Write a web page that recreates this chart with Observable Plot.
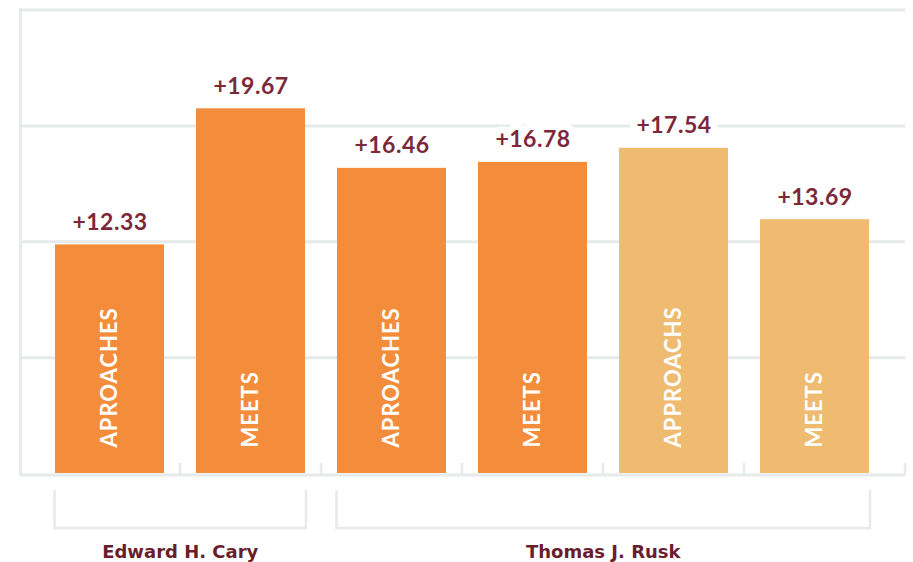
<!DOCTYPE html>
<html>
<head>
<meta charset="utf-8">
<script src="https://cdn.jsdelivr.net/npm/d3@7"></script>
<script src="https://cdn.jsdelivr.net/npm/@observablehq/plot@0.6"></script>
<style>
  html, body { margin: 0; padding: 0; background: #fff; }
  #chart svg { display: block; }
</style>
</head>
<body>
<div id="chart"></div>
<script>
// ---- data ----
const schools = ["Edward H. Cary", "Edward H. Cary", "Thomas J. Rusk", "Thomas J. Rusk", "Thomas J. Rusk", "Thomas J. Rusk"];
const levels = ["APROACHES", "MEETS", "APROACHES", "MEETS", "APPROACHS", "MEETS"];
const values = [12.33, 19.67, 16.46, 16.78, 17.54, 13.69];
const shades = ["dark", "dark", "dark", "dark", "light", "light"];
const groups = ["Edward H. Cary", "Thomas J. Rusk"];
const yTicks = [6.25, 12.5, 18.75, 25];
const yDomain = [0, 25];

const ORANGE = "#f48d3b";
const LIGHT = "#eebb70";
const GRID = "#e7eaea";
const MAROON = "#7b283a";
const MAROON_DARK = "#6a1d2c";

const ids = values.map((_, i) => String(i));
const data = values.map((v, i) => ({id: ids[i], school: schools[i], level: levels[i], value: v, shade: shades[i]}));

function decor(index, scales, vals, dimensions) {
  const x = scales.x, y = scales.y;
  const {width, height, marginLeft, marginRight, marginBottom} = dimensions;
  const base = height - marginBottom;
  let bw = typeof x.bandwidth === "function" ? x.bandwidth() : x.bandwidth;
  if (!(bw > 0)) bw = (x(ids[1]) - x(ids[0])) * (1 - 0.229);
  const left = k => x(k), right = k => x(k) + bw;
  const g = d3.create("svg:g");
  // left axis line
  g.append("line")
    .attr("x1", marginLeft - 0.5).attr("x2", marginLeft - 0.5)
    .attr("y1", y(yDomain[1]) - 1.5).attr("y2", base + 3)
    .attr("stroke", GRID).attr("stroke-width", 3);
  // small ticks between bars and at right edge
  const tickXs = ids.slice(0, -1).map((k, i) => (right(k) + left(ids[i + 1])) / 2);
  tickXs.push(width - marginRight);
  for (const tx of tickXs) {
    g.append("line")
      .attr("x1", tx).attr("x2", tx)
      .attr("y1", base - 10).attr("y2", base + 2)
      .attr("stroke", GRID).attr("stroke-width", 2.5);
  }
  // group brackets + labels
  for (const grp of groups) {
    const ks = data.filter(d => d.school === grp).map(d => d.id);
    const x0 = left(ks[0]) - 0.5, x1 = right(ks[ks.length - 1]) + 1;
    g.append("path")
      .attr("d", `M${x0},${base + 17}V${base + 55}H${x1}V${base + 17}`)
      .attr("fill", "none").attr("stroke", GRID).attr("stroke-width", 2.5);
    g.append("text")
      .attr("x", (x0 + x1) / 2).attr("y", base + 85)
      .attr("text-anchor", "middle")
      .attr("fill", MAROON_DARK)
      .attr("font-family", "DejaVu Sans")
      .attr("font-weight", "bold")
      .attr("font-size", 18)
      .text(grp);
  }
  return g.node();
}

const chart = Plot.plot({
  width: 913,
  height: 562,
  marginTop: 9.5,
  marginBottom: 89,
  marginLeft: 21,
  marginRight: 8,
  style: {background: "#fff", fontFamily: "Lato"},
  x: {domain: ids, paddingInner: 0.229, paddingOuter: 0.2404, align: 0.485, axis: null},
  y: {domain: yDomain, axis: null},
  color: {domain: ["dark", "light"], range: [ORANGE, LIGHT]},
  marks: [
    Plot.ruleY(yTicks, {stroke: GRID, strokeWidth: 3}),
    Plot.ruleY([0], {stroke: GRID, strokeWidth: 3, dy: 1.5}),
    decor,
    Plot.barY(data, {x: "id", y: "value", fill: "shade"}),
    Plot.text(data, {
      x: "id", y: "value", text: d => "+" + d.value.toFixed(2),
      lineAnchor: "bottom", dy: -15,
      fill: MAROON, stroke: "white", strokeWidth: 14, strokeLinejoin: "round",
      fontFamily: "Lato", fontWeight: "bold", fontSize: 23
    }),
    Plot.text(data, {
      x: "id", y: 0, text: "level",
      rotate: -90, textAnchor: "start", lineAnchor: "middle", dy: -26,
      fill: "white", fontFamily: "Lato", fontWeight: "bold", fontSize: 22
    })
  ]
});

// letter spacing for the labels
const textGroups = chart.querySelectorAll('g[aria-label="text"]');
if (textGroups.length >= 2) {
  textGroups[0].setAttribute("letter-spacing", "0.5");
  textGroups[1].setAttribute("letter-spacing", "1");
}
document.getElementById("chart").appendChild(chart);
</script>
</body>
</html>
